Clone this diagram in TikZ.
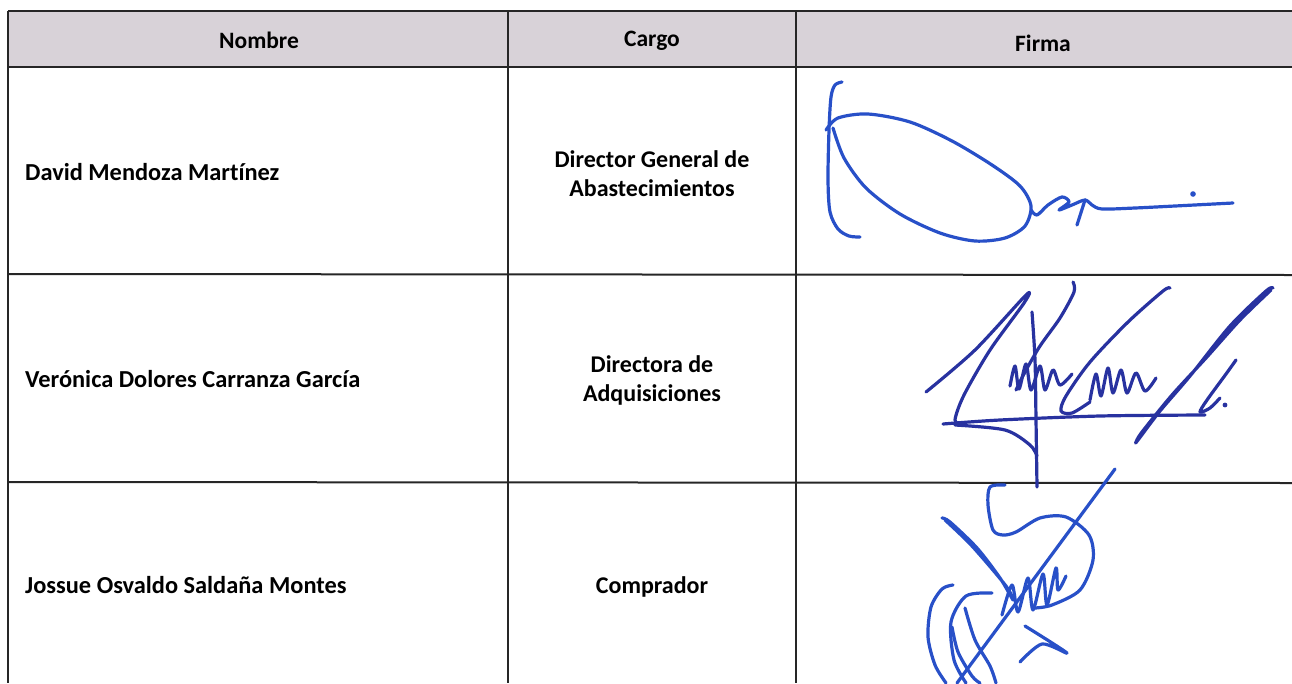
\documentclass[tikz,border=0pt]{standalone}
\usepackage{fontspec}
\setmainfont{Carlito}[Ligatures=NoCommon]
\definecolor{headgray}{RGB}{216,210,216}
\definecolor{inkblue}{RGB}{40,80,200}
\definecolor{inknavy}{RGB}{40,50,160}
\begin{document}
\begin{tikzpicture}[x=1pt,y=-1pt]
    % --- Styles ---
    \tikzstyle{rule}=[line width=2pt, color=black!85]
    \tikzstyle{head}=[font=\fontsize{23.5}{27}\selectfont\bfseries]
    \tikzstyle{cargo}=[font=\fontsize{24}{29}\selectfont\bfseries, align=center]
    \tikzstyle{person}=[font=\fontsize{24.4}{28}\selectfont\bfseries, anchor=west, inner sep=0pt]
    \tikzstyle{sig}=[line width=3.2pt, color=inkblue, line cap=round, line join=round]

    \useasboundingbox (0,0) rectangle (1292,683);

    % --- 1. Header row ---
    \fill[headgray] (8,11) rectangle (1292,67);
    \node[head] (hnombre) at (259,40) {Nombre};
    \node[head] (hcargo) at (652,41) {Cargo};
    \node[head] (hfirma) at (1043,43) {Firma};

    % --- 2. Grid ---
    \draw[rule] (8,11) -- (1292,11);
    \draw[rule] (8,67) -- (1292,67);
    \draw[rule] (8,274) -- (1292,275);
    \draw[rule] (8,482) -- (1292,483);
    \draw[rule] (8,11) -- (8,683);
    \draw[rule] (508,11) -- (508,683);
    \draw[rule] (796,11) -- (796,683);

    % --- 3. Names and posts ---
    \node[person] (n1) at (25,172) {David Mendoza Martínez};
    \node[cargo] (c1) at (652,174) {Director General de\\Abastecimientos};
    \node[person] (n2) at (25,379) {Verónica Dolores Carranza García};
    \node[cargo] (c2) at (652,380) {Directora de\\Adquisiciones};
    \node[person] (n3) at (25,585) {Jossue Osvaldo Saldaña Montes};
    \node[cargo] (c3) at (652,587) {Comprador};

    % --- 4. Signatures ---
    % first
    \draw[sig] plot[smooth] coordinates {(842,82) (835,85) (831,97) (829,130) (828,180) (830,212) (838,229) (849,236) (860,237)};
    \draw[sig] plot[smooth] coordinates {(826,130) (838,118) (868,114) (910,122) (952,141) (992,165) (1020,186) (1031,206) (1025,226) (1005,238) (975,241) (940,233) (900,214) (866,188) (844,158) (833,128)};
    \draw[sig] plot[smooth] coordinates {(1031,210) (1037,215) (1048,205) (1062,197) (1069,202) (1059,210) (1072,205) (1085,200) (1092,205) (1102,209) (1135,208) (1175,206) (1233,203)};
    \draw[sig] (1085,200) -- (1077,225);
    \fill[inkblue] (1193,194) circle (2.8);
    % second
    \begin{scope}[sig, color=inknavy]
    \draw plot[smooth] coordinates {(926,392) (975,350) (1026,295) (1024,303) (990,350) (964,395) (955,420) (962,424)};
    \draw plot[smooth] coordinates {(943,424) (1000,420) (1100,416) (1205,415)};
    \draw plot[smooth] coordinates {(955,425) (1005,430) (1030,445) (1037,456)};
    \draw plot[smooth] coordinates {(1032,312) (1035,360) (1036,420) (1037,487)};
    \draw plot[smooth] coordinates {(1073,282) (1074,292) (1060,318) (1040,346) (1025,372) (1016,390)};
    \draw plot[smooth] coordinates {(1010,386) (1015,366) (1019,389) (1026,364) (1031,390) (1040,366) (1045,390) (1053,370) (1060,385) (1072,374)};
    \draw plot[smooth] coordinates {(1170,288) (1163,291) (1128,322) (1090,362) (1066,396) (1061,411) (1072,413) (1090,402)};
    \draw plot[smooth] coordinates {(1090,400) (1096,374) (1101,396) (1108,368) (1113,393) (1121,370) (1127,393) (1136,373) (1145,391) (1156,378)};
    \draw plot[smooth] coordinates {(1273,288) (1266,291) (1230,326) (1190,376) (1160,411) (1138,440) (1136,442) (1142,432) (1172,395) (1206,358) (1240,320) (1271,290)};
    \draw plot[smooth] coordinates {(1236,360) (1226,374) (1207,400) (1200,412) (1210,408) (1220,398)};
    \fill[inknavy] (1225,405) circle (2.4);
    \end{scope}
    % third
    \draw[sig] (1115,469) -- (957,683);
    \draw[sig] plot[smooth] coordinates {(1005,485) (990,487) (988,505) (993,530) (1003,535) (1016,532) (1040,518) (1066,517) (1089,535) (1093,560) (1080,590) (1052,605) (1035,608)};
    \draw[sig] plot[smooth] coordinates {(942,518) (950,522) (977,548) (1000,578) (1013,600) (1006,586) (972,546) (945,520)};
    \draw[sig] plot[smooth] coordinates {(1002,615) (1012,585) (1018,612) (1028,578) (1033,610) (1043,574) (1047,605) (1056,568) (1058,590) (1066,576)};
    \draw[sig] plot[smooth] coordinates {(953,585) (942,589) (931,607) (928,637) (935,665) (946,683)};
    \draw[sig] plot[smooth] coordinates {(992,593) (966,596) (951,622) (954,660) (966,683)};
    \draw[sig] plot[smooth] coordinates {(952,627) (958,652) (972,676) (980,683)};
    \draw[sig] plot[smooth] coordinates {(965,608) (975,640) (990,666) (996,683)};
    \draw[sig] plot[smooth] coordinates {(1025,626) (1067,653) (1042,644) (1020,662)};
\end{tikzpicture}
\end{document}
